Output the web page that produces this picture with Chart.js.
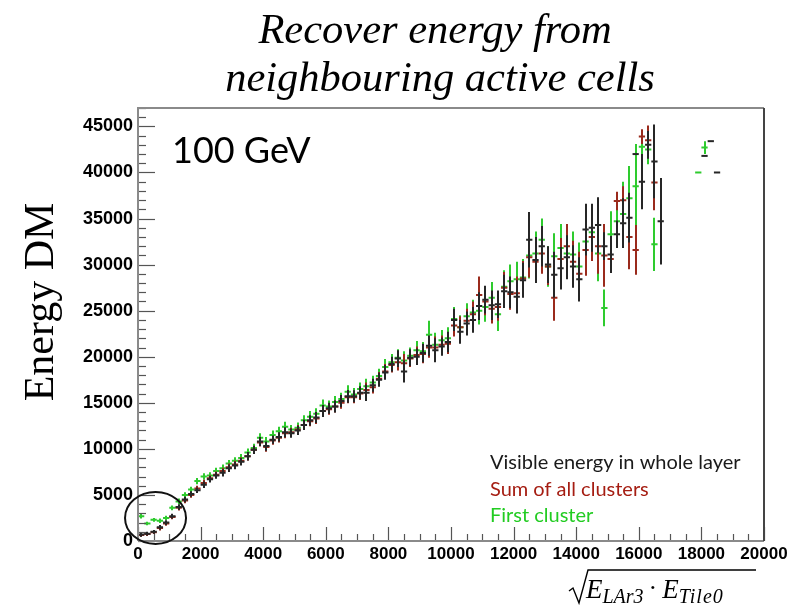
<!DOCTYPE html>
<html><head><meta charset="utf-8">
<script src="https://cdn.jsdelivr.net/npm/chart.js@4"></script>
<style>html,body{margin:0;padding:0;background:#fff;}#wrap{width:805px;height:605px;}</style>
</head><body><div id="wrap"><canvas id="c" width="805" height="605"></canvas></div>
<script>
const binCenters = [100,300,500,700,900,1100,1300,1500,1700,1900,
 2100,2300,2500,2700,2900,3100,3300,3500,3700,3900,
 4100,4300,4500,4700,4900,5100,5300,5500,5700,5900,
 6100,6300,6500,6700,6900,7100,7300,7500,7700,7900,
 8100,8300,8500,8700,8900,9100,9300,9500,9700,9900,
 10100,10300,10500,10700,10900,11100,11300,11500,11700,11900,
 12100,12300,12500,12700,12900,13100,13300,13500,13700,13900,
 14100,14300,14500,14700,14900,15100,15300,15500,15700,15900,
 16100,16300,16500,16700,16900,17100,17300,17500,17700,17900,
 18100,18300,18500];
const binHalfWidth = 100;

const visibleEnergy = [700,800,1000,1500,2000,2700,3700,4500,5100,5500,
 6100,6700,7100,7400,7900,8200,8600,9200,9900,10800,
 10300,11000,11300,11800,11700,12000,12600,13100,13400,14100,
 14400,14600,15200,15700,15700,16100,16100,16900,17500,18300,
 19200,19800,18400,19900,20000,20400,21200,20700,21100,21600,
 24000,22700,23600,24000,25500,26200,25600,25700,27100,27000,
 26500,28300,32700,30500,32000,30000,28900,29600,30800,29800,
 28400,33800,34000,34300,32000,31100,33300,34500,35100,42000,
 39000,43000,41200,34700,null,null,null,null,null,null,
 41800,43400,40000];
const visibleEnergyErr = [250,200,200,250,250,250,300,300,300,300,
 350,350,350,400,400,400,400,450,450,500,
 500,450,500,550,500,500,550,550,600,650,
 600,650,650,700,650,700,900,700,750,800,
 800,900,1200,900,900,1000,1100,1300,1000,1100,
 1200,1300,1300,1400,1500,1500,1600,1500,1800,1700,
 1800,1900,3000,2500,2200,2000,2500,2300,2400,2300,
 2400,2800,2600,3000,1500,2000,1500,2700,2700,0,
 3000,1500,4000,4700,null,null,null,null,null,null,
 0,0,0];

const sumClusters = [650,750,950,1400,1900,2600,3600,4400,5000,5700,
 6300,6800,7200,7600,8000,8300,8700,9200,9900,10700,
 10200,10900,11200,11700,11800,12100,12600,13000,13300,14100,
 14300,14600,15000,15600,15600,16000,16400,16700,17600,18400,
 19100,19400,19300,19800,20200,20300,21000,21000,21300,21400,
 23400,23200,23900,24600,26700,26000,25200,25400,27500,26800,
 26900,28500,30800,30300,31200,29800,26400,30600,32000,30300,
 29000,31600,33000,32000,31000,30600,36900,37000,33000,31600,
 43900,43500,38900,null,null,null,null,null,null,null,
 null,null,null];
const sumClustersErr = [200,200,200,250,250,250,300,300,300,300,
 350,350,350,350,400,400,400,450,450,450,
 500,450,500,550,500,500,550,550,600,600,
 600,650,650,650,650,700,800,700,750,800,
 800,900,1000,900,900,1000,1100,1200,1000,1100,
 1200,1200,1300,1400,2000,1500,1600,1500,1700,1700,
 1800,1900,2200,2000,2200,2000,2500,2300,2400,2300,
 2400,2800,2600,3000,3400,1500,1000,1500,3500,2700,
 800,1600,3000,null,null,null,null,null,null,null,
 null,null,null];

const firstCluster = [2700,1900,2300,2200,2500,3600,4300,5000,5600,6500,
 7000,7100,7600,7900,8400,8700,9000,9600,10100,11200,
 10800,11500,11900,12400,12100,12300,13100,13500,13800,14700,
 14600,15100,15400,16200,15900,16500,16800,17200,17900,18900,
 19400,19900,19600,20100,20700,20600,22400,21300,21800,22000,
 24100,23200,24400,24800,25000,25400,26400,24600,27600,28200,
 28400,28600,31000,31200,32700,29800,30900,31800,31200,31100,
 29800,32500,33500,31200,25300,33300,34700,35500,37200,38500,
 42800,42500,32200,null,null,null,null,null,null,40000,
 42700,null,null];
const firstClusterErr = [250,200,200,250,250,250,300,300,300,350,
 350,350,350,400,400,400,450,450,450,500,
 500,500,500,550,500,550,550,600,600,650,
 650,650,700,700,700,700,800,750,800,850,
 900,900,1000,900,1000,1000,1500,1300,1100,1200,
 1300,1300,1400,1400,1500,1600,1700,1800,1800,1800,
 1900,2000,2500,2400,2300,2200,2500,2600,2700,2500,
 2600,2800,2800,3000,2000,2500,2500,3500,3500,4600,
 1500,1600,2900,null,null,null,null,null,null,0,
 700,null,null];

const seriesNames = ["Visible energy in whole layer","Sum of all clusters","First cluster"];
const seriesColors = ["#262626","#9a2a1c","#2ecb2e"];
const xTickValues = [0,2000,4000,6000,8000,10000,12000,14000,16000,18000,20000];
const yTickValues = [0,5000,10000,15000,20000,25000,30000,35000,40000,45000];
const titleLines = ["Recover energy from","neighbouring active cells"];
const yAxisTitle = "Energy DM";
const beamLabel = "100 GeV";

function makeData(vals){
  const out=[];
  for(let i=0;i<binCenters.length;i++){ if(vals[i]!==null && vals[i]!==undefined) out.push({x:binCenters[i], y:vals[i], i:i}); }
  return out;
}
const errs=[visibleEnergyErr,sumClustersErr,firstClusterErr];
const vals=[visibleEnergy,sumClusters,firstCluster];

const errorBarPlugin = {
  id:'errbars',
  afterDatasetDraw(chart,args){
    const ds=chart.data.datasets[args.index];
    const xs=chart.scales.x, ys=chart.scales.y, ctx=chart.ctx;
    const err=errs[args.index];
    ctx.save();
    ctx.beginPath();
    const a=chart.chartArea; ctx.rect(a.left,a.top,a.right-a.left,a.bottom-a.top); ctx.clip();
    ctx.strokeStyle=ds.borderColor; ctx.lineWidth=2;
    ds.data.forEach(p=>{
      const e=err[p.i]||0;
      const px=Math.round(xs.getPixelForValue(p.x));
      ctx.beginPath();
      ctx.moveTo(xs.getPixelForValue(p.x-binHalfWidth),ys.getPixelForValue(p.y));
      ctx.lineTo(xs.getPixelForValue(p.x+binHalfWidth),ys.getPixelForValue(p.y));
      if(e>0){
        ctx.moveTo(px,ys.getPixelForValue(p.y-e));
        ctx.lineTo(px,ys.getPixelForValue(p.y+e));
      }
      ctx.stroke();
    });
    ctx.restore();
  }
};

const decorPlugin = {
  id:'decor',
  afterDraw(chart){
    const ctx=chart.ctx, a=chart.chartArea, xs=chart.scales.x, ys=chart.scales.y;
    ctx.save();
    // ticks (inward, ROOT style)
    ctx.strokeStyle='#555'; ctx.lineWidth=1.2;
    for(let v=0; v<=20000; v+=500){
      const px=Math.round(xs.getPixelForValue(v))+0.5;
      const len=(v%2000===0)?14:7;
      ctx.beginPath(); ctx.moveTo(px,a.bottom); ctx.lineTo(px,a.bottom-len); ctx.stroke();
    }
    for(let v=0; v<=47000; v+=1000){
      const py=Math.round(ys.getPixelForValue(v))+0.5;
      const len=(v%5000===0)?17:8;
      ctx.beginPath(); ctx.moveTo(a.left,py); ctx.lineTo(a.left+len,py); ctx.stroke();
    }
    // frame
    ctx.lineWidth=2; ctx.strokeStyle='#8a8a8a';
    ctx.beginPath(); ctx.moveTo(a.left,a.bottom); ctx.lineTo(a.left,a.top); ctx.lineTo(a.right,a.top); ctx.stroke();
    ctx.beginPath(); ctx.moveTo(a.left,a.bottom); ctx.lineTo(a.right,a.bottom); ctx.stroke();
    ctx.strokeStyle='#444';
    ctx.beginPath(); ctx.moveTo(a.right,a.top); ctx.lineTo(a.right,a.bottom); ctx.stroke();

    // circle annotation
    ctx.strokeStyle='#111'; ctx.lineWidth=2;
    ctx.beginPath();
    ctx.ellipse(xs.getPixelForValue(560), ys.getPixelForValue(2500), 30.5, 26, 0, 0, Math.PI*2);
    ctx.stroke();

    // title
    ctx.fillStyle='#000'; ctx.textAlign='center'; ctx.textBaseline='alphabetic';
    ctx.font='italic 42.5px "Liberation Serif"';
    ctx.fillText(titleLines[0], 435, 43);
    ctx.fillText(titleLines[1], 440, 91);

    // y axis title
    ctx.save();
    ctx.translate(53, 302); ctx.rotate(-Math.PI/2);
    ctx.font='42px "Liberation Serif"'; ctx.textAlign='center';
    ctx.fillText(yAxisTitle, 0, 0);
    ctx.restore();

    // beam energy label
    ctx.textAlign='left';
    ctx.font='36px Lato';
    ctx.fillText(beamLabel, 172, 163);

    // legend texts
    ctx.font='20px Lato';
    const lx=490, ly=[469,496,522];
    seriesNames.forEach((n,k)=>{
      ctx.fillStyle=k===0?'#1a1a1a':(k===1?'#a51d12':'#22cc22');
      ctx.fillText(n, lx, ly[k]);
    });

    // x axis title: sqrt(E_LAr3 . E_Tile0)
    ctx.fillStyle='#000'; ctx.strokeStyle='#000'; ctx.lineWidth=1.4;
    ctx.beginPath();
    ctx.moveTo(569,591); ctx.lineTo(573,588); ctx.lineTo(579,603); ctx.lineTo(588,570); ctx.lineTo(756,570);
    ctx.stroke();
    let x=586;
    const big='italic 27px "Liberation Serif"', sub='italic 20px "Liberation Serif"';
    ctx.font=big; ctx.fillText('E',x,598); x+=ctx.measureText('E').width;
    ctx.font=sub; ctx.fillText('LAr3',x,603); x+=ctx.measureText('LAr3').width+5;
    ctx.font='26px "Liberation Serif"'; ctx.fillText('\u00B7',x,596); x+=ctx.measureText('\u00B7').width+5;
    ctx.font=big; ctx.fillText('E',x,598); x+=ctx.measureText('E').width;
    ctx.font=sub; ctx.letterSpacing='1px'; ctx.fillText('Tile0',x,603); ctx.letterSpacing='0px';
    ctx.restore();
  }
};

const datasets = vals.map((v,k)=>({
  label: seriesNames[k],
  data: makeData(v),
  borderColor: seriesColors[k],
  backgroundColor: seriesColors[k],
  pointRadius: 0,
  showLine:false
}));

new Chart(document.getElementById('c'), {
  type:'scatter',
  data:{datasets},
  options:{
    responsive:false, animation:false, devicePixelRatio:1,
    layout:{padding:{top:108,right:41,left:0,bottom:0}},
    plugins:{legend:{display:false}, tooltip:{enabled:false}, title:{display:false}},
    scales:{
      x:{type:'linear', min:0, max:20000,
        afterBuildTicks:s=>{s.ticks=xTickValues.map(v=>({value:v}));},
        afterFit:s=>{s.height=64;},
        grid:{display:false, drawTicks:false}, border:{display:false},
        ticks:{color:'#000', padding:3, maxRotation:0, autoSkip:false,
          callback:v=>String(v),
          font:{family:'"Liberation Sans"', weight:'bold', size:17}}},
      y:{type:'linear', min:0, max:47000,
        afterBuildTicks:s=>{s.ticks=yTickValues.map(v=>({value:v}));},
        afterFit:s=>{s.width=138;},
        grid:{display:false, drawTicks:false}, border:{display:false},
        ticks:{color:'#000', padding:5, autoSkip:false,
          callback:v=>String(v),
          font:{family:'"Liberation Sans"', weight:'bold', size:18}}}
    }
  },
  plugins:[errorBarPlugin, decorPlugin]
});
</script></body></html>
